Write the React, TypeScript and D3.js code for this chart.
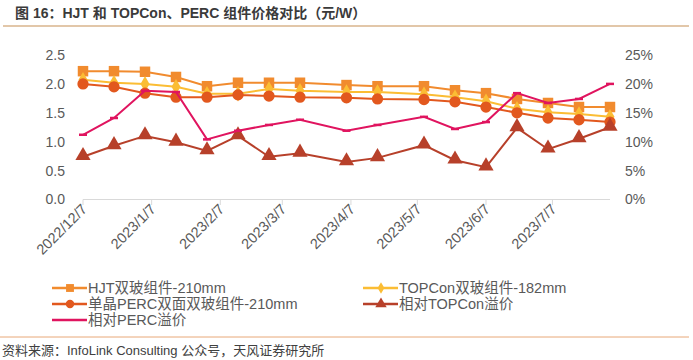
import React from "react";
import * as d3 from "d3";

const dates = ["2022-12-07","2022-12-21","2023-01-04","2023-01-18","2023-02-01","2023-02-15","2023-03-01","2023-03-15","2023-04-05","2023-04-19","2023-05-10","2023-05-24","2023-06-07","2023-06-21","2023-07-05","2023-07-19","2023-08-02"];
const hjt = [2.22,2.22,2.21,2.12,1.96,2.02,2.02,2.02,1.98,1.96,1.96,1.89,1.84,1.74,1.67,1.60,1.60];
const topcon = [2.07,2.02,2.0,1.95,1.83,1.83,1.91,1.88,1.86,1.86,1.82,1.77,1.70,1.57,1.51,1.48,1.43];
const perc = [2.0,1.95,1.84,1.77,1.77,1.81,1.79,1.77,1.76,1.74,1.73,1.69,1.60,1.50,1.41,1.38,1.34];
const premTopcon = [7.4,9.3,11.0,9.9,8.4,11.0,7.4,8.0,6.5,7.2,9.4,6.8,5.6,12.4,8.7,10.5,12.5];
const premPerc = [11.2,14.1,18.8,18.6,10.4,11.9,12.9,13.8,11.9,12.9,14.3,12.2,13.4,18.4,16.7,17.4,20.0];
const tickDates = ["2022-12-07","2023-01-07","2023-02-07","2023-03-07","2023-04-07","2023-05-07","2023-06-07","2023-07-07"];
const tickLabels = ["2022/12/7","2023/1/7","2023/2/7","2023/3/7","2023/4/7","2023/5/7","2023/6/7","2023/7/7"];
const leftTicks = [0,0.5,1,1.5,2,2.5];
const rightTicks = [0,5,10,15,20,25];

const C = { hjt: "#F18B2E", topcon: "#FBBD34", perc: "#E2581E", tri: "#B7402A", pink: "#E0145F" };

const parse = d3.timeParse("%Y-%m-%d");

export default function App() {
  const x = d3.scaleTime().domain([parse(dates[0])!, parse(dates[dates.length - 1])!]).range([83, 610]);
  const yL = d3.scaleLinear().domain([0, 2.5]).range([199.5, 55]);
  const yR = d3.scaleLinear().domain([0, 25]).range([199.5, 55]);
  const xs = dates.map((d) => x(parse(d)!));
  const lineL = (vals: number[]) => d3.line<number>().x((_, i) => xs[i]).y((v) => yL(v))(vals)!;
  const lineR = (vals: number[]) => d3.line<number>().x((_, i) => xs[i]).y((v) => yR(v))(vals)!;
  const sq = d3.symbol().type(d3.symbolSquare).size(110)()!;
  const ci = d3.symbol().type(d3.symbolCircle).size(100)()!;
  const di = d3.symbol().type(d3.symbolDiamond).size(70)()!;
  const tr = d3.symbol().type(d3.symbolTriangle).size(100)()!;
  const font = "'Liberation Sans', 'Noto Sans CJK SC', sans-serif";

  const legend = [
    { label: "HJT双玻组件-210mm", color: C.hjt, sym: sq, lx: 52, ly: 288 },
    { label: "TOPCon双玻组件-182mm", color: C.topcon, sym: di, lx: 363, ly: 288 },
    { label: "单晶PERC双面双玻组件-210mm", color: C.perc, sym: ci, lx: 52, ly: 304 },
    { label: "相对TOPCon溢价", color: C.tri, sym: tr, lx: 363, ly: 304 },
    { label: "相对PERC溢价", color: C.pink, sym: null, lx: 52, ly: 320 },
  ];

  return (
    <svg width={693} height={360} style={{ position: "absolute", left: 0, top: 0, background: "#fff" }}>
      <text x={15} y={18} fontFamily={font} fontSize={14} fontWeight="bold" fill="#3a3a3a">图 16：HJT 和 TOPCon、PERC 组件价格对比（元/W）</text>
      <line x1={3} x2={689} y1={26} y2={26} stroke="#D9B48C" strokeWidth={1.5} />
      <line x1={83} x2={610} y1={199.5} y2={199.5} stroke="#D9D9D9" strokeWidth={1} />
      {tickDates.map((d, i) => {
        const tx = x(parse(d)!);
        return (
          <g key={d}>
            <line x1={tx} x2={tx} y1={199.5} y2={205} stroke="#D9D9D9" />
            <text transform={`translate(${tx + 5},${210}) rotate(-45)`} textAnchor="end" fontFamily={font} fontSize={14.5} fill="#595959">{tickLabels[i]}</text>
          </g>
        );
      })}
      {leftTicks.map((t) => (
        <text key={t} x={65} y={yL(t)} dy="0.35em" textAnchor="end" fontFamily={font} fontSize={14} fill="#595959">{t.toFixed(1)}</text>
      ))}
      {rightTicks.map((t) => (
        <text key={t} x={625} y={yR(t)} dy="0.35em" fontFamily={font} fontSize={14} fill="#595959">{t}%</text>
      ))}
      <path d={lineL(hjt)} fill="none" stroke={C.hjt} strokeWidth={2} />
      {hjt.map((v, i) => <path key={i} d={sq} transform={`translate(${xs[i]},${yL(v)})`} fill={C.hjt} />)}
      <path d={lineL(topcon)} fill="none" stroke={C.topcon} strokeWidth={2} />
      {topcon.map((v, i) => <path key={i} d={di} transform={`translate(${xs[i]},${yL(v)})`} fill={C.topcon} />)}
      <path d={lineL(perc)} fill="none" stroke={C.perc} strokeWidth={2} />
      {perc.map((v, i) => <path key={i} d={ci} transform={`translate(${xs[i]},${yL(v)})`} fill={C.perc} />)}
      <path d={lineR(premTopcon)} fill="none" stroke={C.tri} strokeWidth={2} />
      {premTopcon.map((v, i) => <path key={i} d={tr} transform={`translate(${xs[i]},${yR(v) - 1})`} fill={C.tri} />)}
      <path d={lineR(premPerc)} fill="none" stroke={C.pink} strokeWidth={2} />
      {premPerc.map((v, i) => <line key={i} x1={xs[i] - 4} x2={xs[i] + 4} y1={yR(v)} y2={yR(v)} stroke={C.pink} strokeWidth={2.5} />)}
      {legend.map((l) => (
        <g key={l.label}>
          <line x1={l.lx} x2={l.lx + 35} y1={l.ly} y2={l.ly} stroke={l.color} strokeWidth={2.5} />
          {l.sym && <path d={l.sym} transform={`translate(${l.lx + 18},${l.ly}) scale(0.75)`} fill={l.color} />}
          <text x={l.lx + 36} y={l.ly} dy="0.35em" fontFamily={font} fontSize={14.5} fill="#595959">{l.label}</text>
        </g>
      ))}
      <line x1={0} x2={689} y1={337} y2={337} stroke="#E8A878" strokeWidth={1} />
      <text x={2} y={355} fontFamily={font} fontSize={13} fill="#404040">资料来源：InfoLink Consulting 公众号，天风证券研究所</text>
    </svg>
  );
}
